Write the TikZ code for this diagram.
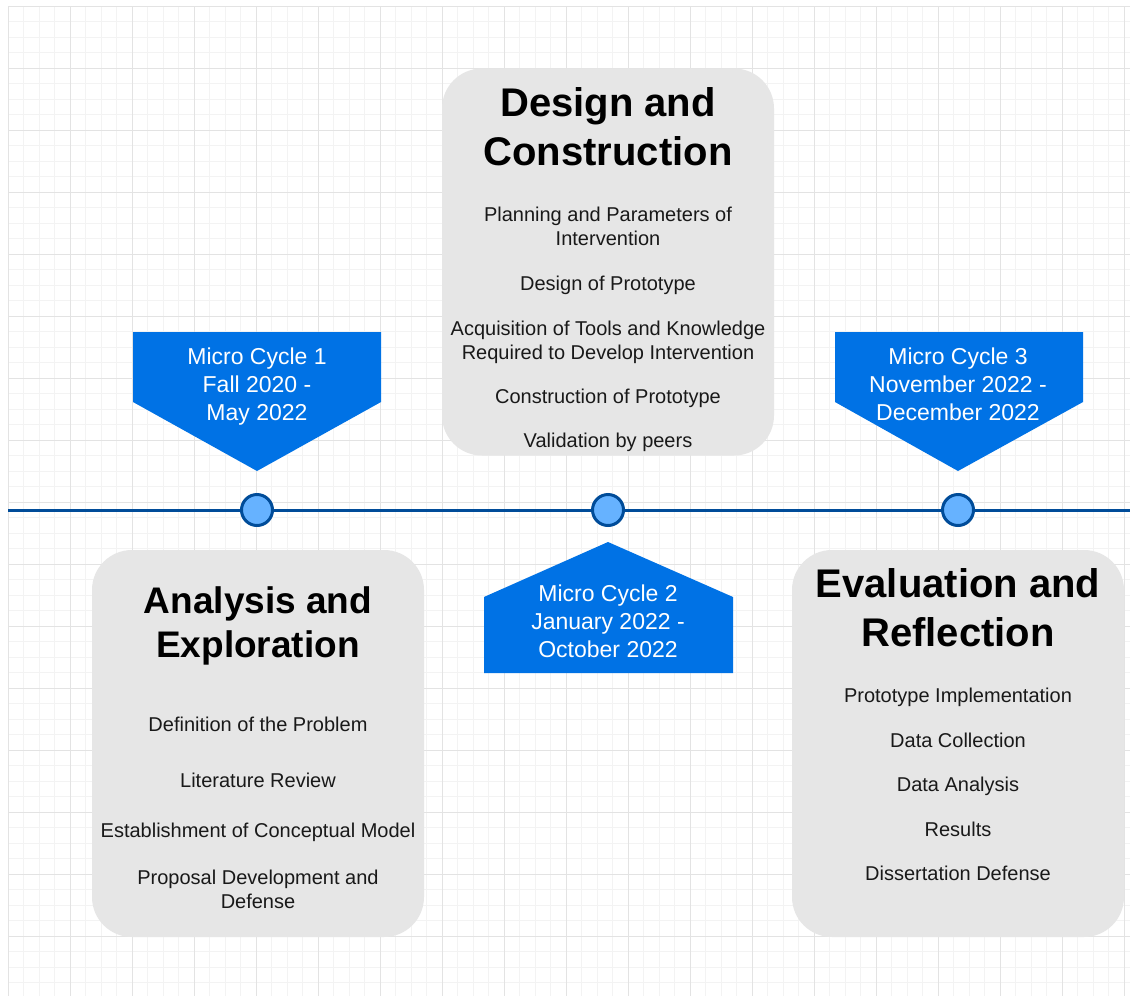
\documentclass[tikz,border=0pt]{standalone}
\usepackage{fontspec}
\setmainfont{Liberation Sans}

\definecolor{gridmajor}{HTML}{E3E3E3}
\definecolor{gridminor}{HTML}{F3F3F3}
\definecolor{phasegrey}{HTML}{E6E6E6}
\definecolor{cycleblue}{HTML}{0072E5}
\definecolor{lineblue}{HTML}{004C99}
\definecolor{dotblue}{HTML}{66B2FF}

\begin{document}
\begin{tikzpicture}[
    x=1pt, y=-1pt,
    phase/.style={
        rectangle,
        rounded corners=40pt,
        fill=phasegrey,
        minimum width=332pt,
        minimum height=387pt
    },
    phasetitle/.style={align=center, font=\fontsize{40}{49}\selectfont\bfseries},
    task/.style={align=center, text=black!90, font=\fontsize{20}{24}\selectfont},
    cycle/.style={fill=cycleblue},
    cyclelabel/.style={align=center, text=white, font=\fontsize{23}{28}\selectfont},
    milestone/.style={
        circle,
        draw=lineblue,
        fill=dotblue,
        line width=3pt,
        minimum size=31pt,
        inner sep=0pt
    },
    timeline/.style={draw=lineblue, line width=3pt}
]

% page and background grid
\path[use as bounding box, fill=white] (0,0) rectangle (1130,996);
\begin{scope}[shift={(8,6)}]
\draw[gridminor, line width=1pt, step=15.5pt] (0,990) grid (1122,0);
\draw[gridmajor, line width=1pt, step=62pt] (0,990) grid (1122,0);
\end{scope}

% phase boxes
\node[phase] (analysis) at (258,743.5) {};
\node[phase] (design) at (608,262) {};
\node[phase] (evaluation) at (958,743.5) {};

\node[phasetitle, font=\fontsize{37}{44}\selectfont\bfseries] (analysistitle) at (258,626) {Analysis and\\Exploration};
\node[task] (problem) at (258,724) {Definition of the Problem};
\node[task] (review) at (258,780) {Literature Review};
\node[task] (model) at (258,832) {Establishment of Conceptual Model};
\node[task] (proposal) at (258,889.5) {Proposal Development and\\Defense};

\node[phasetitle] (designtitle) at (608,126.5) {Design and\\Construction};
\node[task] (planning) at (608,226.5) {Planning and Parameters of\\Intervention};
\node[task] (prototype) at (608,285) {Design of Prototype};
\node[task] (tools) at (608,342) {Acquisition of Tools and Knowledge\\Required to Develop Intervention};
\node[task] (construction) at (608,398) {Construction of Prototype};
\node[task] (peers) at (608,442) {Validation by peers};

\node[phasetitle] (evaluationtitle) at (958,607.5) {Evaluation and\\Reflection};
\node[task] (implementation) at (958,697) {Prototype Implementation};
\node[task] (collection) at (958,740) {Data Collection};
\node[task] (dataanalysis) at (958,786) {Data Analysis};
\node[task] (results) at (958,829) {Results};
\node[task] (defense) at (958,873) {Dissertation Defense};

% micro cycle tags
\fill[cycle] (133,332) -- (381,332) -- (381,402) -- (257,471) -- (133,402) -- cycle;
\fill[cycle] (484,673) -- (733,673) -- (733,597) -- (608,542) -- (484,597) -- cycle;
\fill[cycle] (835,332) -- (1083,332) -- (1083,402) -- (958,471) -- (835,402) -- cycle;

\node[cyclelabel] (cycleone) at (257,386.5) {Micro Cycle 1\\Fall 2020 -\\May 2022};
\node[cyclelabel] (cycletwo) at (608,621) {Micro Cycle 2\\January 2022 -\\October 2022};
\node[cyclelabel] (cyclethree) at (958,384) {Micro Cycle 3\\November 2022 -\\December 2022};

% timeline
\coordinate (tlstart) at (8,510);
\coordinate (tlend) at (1130,510);
\node[milestone] (mone) at (257,510) {};
\node[milestone] (mtwo) at (608,510) {};
\node[milestone] (mthree) at (958,510) {};

\draw[timeline] (tlstart) -- (mone);
\draw[timeline] (mone) -- (mtwo);
\draw[timeline] (mtwo) -- (mthree);
\draw[timeline] (mthree) -- (tlend);

\end{tikzpicture}
\end{document}
